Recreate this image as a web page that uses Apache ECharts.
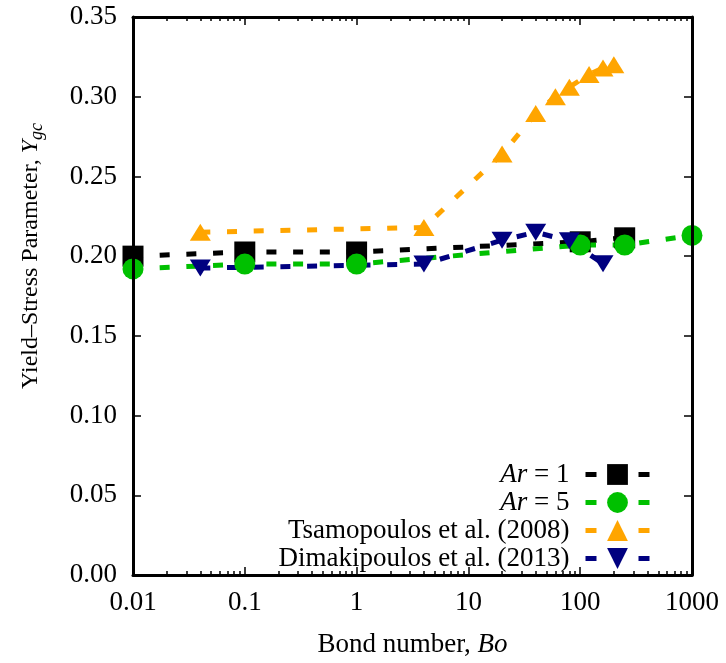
<!DOCTYPE html>
<html>
<head>
<meta charset="utf-8">
<script src="https://cdn.jsdelivr.net/npm/echarts@6/dist/echarts.min.js"></script>
<style>
  html, body { margin: 0; padding: 0; background: #fff; }
  #chart { width: 726px; height: 663px; }
</style>
</head>
<body>
<div id="chart"></div>
<script>
// Bond number values and yield-stress parameter for each data set
const boAr1 = [0.01, 0.1, 1, 100, 250];
const ygcAr1 = [0.200, 0.2026, 0.2026, 0.209, 0.2115];

const boAr5 = [0.01, 0.1, 1, 100, 250, 1000];
const ygcAr5 = [0.192, 0.195, 0.195, 0.207, 0.207, 0.213];

const boTsam = [0.04, 4, 20, 40, 60, 80, 120, 160, 200];
const ygcTsam = [0.215, 0.218, 0.264, 0.2895, 0.300, 0.306, 0.314, 0.318, 0.320];

const boDima = [0.04, 4, 20, 40, 80, 160];
const ygcDima = [0.1925, 0.195, 0.210, 0.215, 0.2096, 0.1953];

const xTickLabels = ['0.01', '0.1', '1', '10', '100', '1000'];
const seriesNames = ['Ar = 1', 'Ar = 5', 'Tsamopoulos et al. (2008)', 'Dimakipoulos et al. (2013)'];

// decade exponents and the 2..9 minor ticks, expressed as log10(Bo)
const majorExp = [-2, -1, 0, 1, 2, 3];
const minorExp = [];
for (let e = -2; e < 3; e++) {
  for (let k = 2; k <= 9; k++) minorExp.push(e + Math.log10(k));
}

const FONT = 'Liberation Serif';
const FS = 27;
const zip = (xs, ys) => xs.map((x, i) => [x, ys[i]]);

const chart = echarts.init(document.getElementById('chart'), null, { renderer: 'canvas' });

// tick-only axes laid out in log10(Bo) so the decade ticks sit on the log scale
function tickAxis(position, values, len, withLine) {
  return {
    type: 'value', min: -2, max: 3, position: position, z: 10,
    splitLine: { show: false },
    axisLine: { show: withLine, onZero: false, lineStyle: { color: '#000', width: 3 } },
    axisTick: { show: true, inside: true, length: len, customValues: values, lineStyle: { color: '#000', width: 1.5 } },
    axisLabel: { show: false }
  };
}

function yAxisAt(position, showLabels) {
  return {
    type: 'value', min: 0, max: 0.35, interval: 0.05, position: position, z: 10,
    splitLine: { show: false },
    axisLine: { show: true, onZero: false, lineStyle: { color: '#000', width: 3 } },
    axisTick: { show: true, inside: true, length: 8, lineStyle: { color: '#000', width: 1.5 } },
    axisLabel: {
      show: showLabels, margin: 16, color: '#000', fontFamily: FONT, fontSize: FS,
      formatter: v => v.toFixed(2)
    }
  };
}

const downTriangle = 'path://M0,0 L20,0 L10,16 Z';

const lineBase = {
  type: 'line', clip: false, xAxisIndex: 0, yAxisIndex: 0,
  lineStyle: { width: 5, type: [10, 16.7] },
  emphasis: { disabled: true }
};

chart.setOption({
  animation: false,
  grid: { left: 133, right: 34, top: 17, bottom: 85, containLabel: false },
  xAxis: [
    {
      type: 'log', logBase: 10, min: 0.01, max: 1000, position: 'bottom', z: 10,
      splitLine: { show: false },
      axisLine: { show: true, onZero: false, lineStyle: { color: '#000', width: 3 } },
      axisTick: { show: false },
      axisLabel: {
        show: true, margin: 14, color: '#000', fontFamily: FONT, fontSize: FS,
        formatter: v => xTickLabels[Math.round(Math.log10(v)) + 2]
      },
      name: 'Bond number, {i|Bo}', nameLocation: 'middle', nameGap: 56,
      nameTextStyle: {
        color: '#000', fontFamily: FONT, fontSize: FS,
        rich: { i: { fontStyle: 'italic', fontFamily: FONT, fontSize: FS, color: '#000' } }
      }
    },
    tickAxis('bottom', majorExp, 8, false),
    tickAxis('bottom', minorExp, 4, false),
    tickAxis('top', majorExp, 8, true),
    tickAxis('top', minorExp, 4, false)
  ],
  yAxis: [yAxisAt('left', true), yAxisAt('right', false)],
  legend: {
    orient: 'vertical', align: 'right', right: 74, top: 461, padding: 0,
    itemGap: 1, itemWidth: 64, itemHeight: 26,
    selectedMode: false,
    lineStyle: { width: 5, type: [11, 42] },
    data: seriesNames,
    formatter: name => name.startsWith('Ar') ? '{i|Ar}' + name.slice(2) : name,
    textStyle: {
      color: '#000', fontFamily: FONT, fontSize: FS, padding: [0, 11, 0, 0],
      rich: { i: { fontStyle: 'italic', fontFamily: FONT, fontSize: FS, color: '#000' } }
    }
  },
  graphic: [{
    type: 'text', x: 31, y: 256, rotation: Math.PI / 2,
    style: {
      text: 'Yield–Stress Parameter, {i|Y}{s|gc}',
      fill: '#000', font: '24px "' + FONT + '"',
      align: 'center', verticalAlign: 'middle',
      rich: {
        i: { fontStyle: 'italic', fontFamily: FONT, fontSize: 24, lineHeight: 24 },
        s: { fontStyle: 'italic', fontFamily: FONT, fontSize: 18, lineHeight: 18, padding: [13, 0, 0, 0] }
      }
    }
  }],
  series: [
    Object.assign({}, lineBase, {
      name: seriesNames[0], data: zip(boAr1, ygcAr1),
      symbol: 'rect', symbolSize: 21,
      itemStyle: { color: '#000000' }, lineStyle: Object.assign({}, lineBase.lineStyle, { color: '#000000' })
    }),
    Object.assign({}, lineBase, {
      name: seriesNames[1], data: zip(boAr5, ygcAr5),
      symbol: 'circle', symbolSize: 21,
      itemStyle: { color: '#00c000' }, lineStyle: Object.assign({}, lineBase.lineStyle, { color: '#00c000' })
    }),
    Object.assign({}, lineBase, {
      name: seriesNames[2], data: zip(boTsam, ygcTsam),
      symbol: 'triangle', symbolSize: [21, 17],
      itemStyle: { color: '#ffa500' }, lineStyle: Object.assign({}, lineBase.lineStyle, { color: '#ffa500' })
    }),
    Object.assign({}, lineBase, {
      name: seriesNames[3], data: zip(boDima, ygcDima),
      symbol: downTriangle, symbolSize: [21, 17],
      itemStyle: { color: '#000080' }, lineStyle: Object.assign({}, lineBase.lineStyle, { color: '#000080' })
    })
  ]
});
</script>
</body>
</html>
